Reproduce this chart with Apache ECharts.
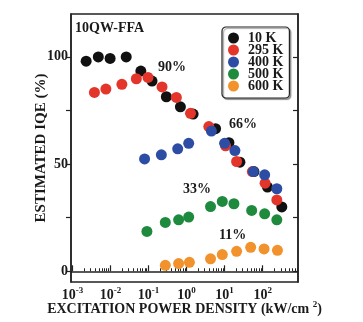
<!DOCTYPE html>
<html>
<head>
<meta charset="utf-8">
<script src="https://cdn.jsdelivr.net/npm/echarts@6/dist/echarts.min.js"></script>
<style>html,body{margin:0;padding:0;background:#fff;}#c{width:363px;height:322px;}</style>
</head>
<body>
<div id="c"></div>
<script>
// ---- data (excitation power density in kW/cm^2, IQE in %) ----
const seriesNames = ['10 K', '295 K', '400 K', '500 K', '600 K'];
const x10K  = [0.0023, 0.0048, 0.0098, 0.026, 0.063, 0.124, 0.295, 0.69, 1.49, 5.8, 13, 25.3, 59, 134, 319];
const y10K  = [98, 100, 99.3, 100, 93.4, 88.7, 81.4, 76.7, 73.3, 66.5, 60, 50.9, 46.5, 39.3, 30];
const x295K = [0.0038, 0.0076, 0.020, 0.048, 0.097, 0.227, 0.54, 1.27, 3.85, 10.6, 20.7, 53.7, 116, 236];
const y295K = [83.4, 85, 87.2, 89.8, 90.4, 86, 81.1, 73.7, 67.5, 58.5, 51.2, 46.5, 41.1, 33.3];
const x400K = [0.079, 0.218, 0.586, 1.14, 4.5, 10, 18.7, 57, 113, 236];
const y400K = [52.4, 54.3, 57.1, 59.7, 65.4, 59.7, 56.3, 46.5, 45, 38.5];
const x500K = [0.091, 0.277, 0.62, 1.14, 4.27, 8.7, 17.6, 51.5, 113, 236];
const y500K = [18.6, 22.8, 24, 25.3, 30.2, 32.6, 31.5, 28.4, 26.8, 24];
const x600K = [0.277, 0.62, 1.19, 4.27, 8.7, 20.7, 48.5, 109, 245];
const y600K = [2.8, 3.6, 4.2, 5.8, 7.8, 9.3, 11.2, 10.4, 9.8];
const xMajorTicks = [1e-3, 1e-2, 1e-1, 1, 10, 100];
const xMinorTicks = [];
for (let e = -3; e <= 2; e++) for (let m = 2; m <= 9; m++) { const v = m * Math.pow(10, e); if (v < 850) xMinorTicks.push(v); }
const yTicks = [0, 25, 50, 75, 100];
const yLabels = [0, 50, 100];
const annotations = ['10QW-FFA', '90%', '66%', '33%', '11%'];

const colors = ['#111111', '#e4352b', '#2c4da3', '#1d8a3e', '#f2922c'];
const xs = [x10K, x295K, x400K, x500K, x600K];
const ys = [y10K, y295K, y400K, y500K, y600K];
const FONT = '"Liberation Serif", "Times New Roman", serif';
const TXT = '#1a1a1a';
const big = {fontFamily: FONT, fontWeight: 'bold', fontSize: 14, color: TXT};
const sup = {fontFamily: FONT, fontWeight: 'bold', fontSize: 9, color: TXT};

const chart = echarts.init(document.getElementById('c'), null, {renderer: 'canvas'});
const series = seriesNames.map((n, i) => ({
  name: n, type: 'scatter', symbol: 'circle', symbolSize: 11,
  itemStyle: {color: colors[i], opacity: 1},
  data: xs[i].map((x, j) => [x, ys[i][j]])
}));

const txt = (t, x, y, size) => ({
  type: 'text', left: x, top: y,
  style: {text: t, font: 'bold ' + size + 'px ' + FONT, fill: TXT}
});

chart.setOption({
  animation: false,
  grid: {left: 71, right: 65, top: 14, bottom: 40, show: true, borderColor: '#222', borderWidth: 1.5,
         containLabel: false, outerBoundsMode: 'none'},
  xAxis: [{
    type: 'log', min: 0.00092, max: 850, position: 'bottom',
    axisLine: {lineStyle: {color: '#222', width: 1.5}},
    axisTick: {inside: true, length: 6, customValues: xMajorTicks, lineStyle: {color: '#222', width: 1.2}},
    axisLabel: {customValues: xMajorTicks, margin: 4,
      formatter: v => '{b|10}{s|' + Math.round(Math.log10(v)) + '}',
      rich: {
        b: Object.assign({}, big, {lineHeight: 16, verticalAlign: 'bottom'}),
        s: Object.assign({}, sup, {lineHeight: 9, verticalAlign: 'top'})
      }},
    splitLine: {show: false},
    name: '{n|EXCITATION POWER DENSITY (kW/cm }{s|2}{n|)}', nameLocation: 'middle', nameGap: 18,
    nameMoveOverlap: false,
    nameTextStyle: {rich: {
      n: Object.assign({}, big, {lineHeight: 16, verticalAlign: 'bottom'}),
      s: Object.assign({}, sup, {lineHeight: 9, verticalAlign: 'top'})
    }}
  }, {
    type: 'log', min: 0.00092, max: 850, position: 'bottom',
    axisLine: {show: false},
    axisTick: {inside: true, length: 3, customValues: xMinorTicks, lineStyle: {color: '#222', width: 1}},
    axisLabel: {show: false}, splitLine: {show: false}
  }],
  yAxis: [{
    type: 'value', min: -5, max: 120, position: 'left',
    axisLine: {show: true, lineStyle: {color: '#222', width: 1.5}},
    axisTick: {show: true, inside: false, length: 5, customValues: yTicks, lineStyle: {color: '#222', width: 1.2}},
    axisLabel: Object.assign({customValues: yLabels, margin: 3}, big),
    splitLine: {show: false},
    name: 'ESTIMATED IQE (%)', nameLocation: 'middle', nameGap: 22, nameRotate: 90,
    nameMoveOverlap: false,
    nameTextStyle: Object.assign({}, big, {fontSize: 15})
  }, {
    type: 'value', min: -5, max: 120, position: 'right',
    axisLine: {show: true, lineStyle: {color: '#222', width: 1.5}},
    axisTick: {show: true, inside: true, length: 5, customValues: yTicks, lineStyle: {color: '#222', width: 1.2}},
    axisLabel: {show: false}, splitLine: {show: false}
  }],
  legend: {
    data: seriesNames, orient: 'vertical', left: 222, top: 27,
    icon: 'circle', itemWidth: 11, itemHeight: 11, itemGap: -2,
    padding: [4, 6, 5, 6],
    borderColor: '#222', borderWidth: 1.2, borderRadius: 4,
    shadowColor: 'rgba(0,0,0,0.35)', shadowOffsetX: 1.5, shadowOffsetY: 1.5, shadowBlur: 1,
    backgroundColor: '#fff',
    textStyle: Object.assign({padding: [0, 0, 0, 4]}, big)
  },
  graphic: [
    txt(annotations[0], 75, 21, 14),
    txt(annotations[1], 158, 60, 14),
    txt(annotations[2], 229, 117, 14),
    txt(annotations[3], 183, 182, 14),
    txt(annotations[4], 219, 228, 14)
  ],
  series: series
});
</script>
</body>
</html>
